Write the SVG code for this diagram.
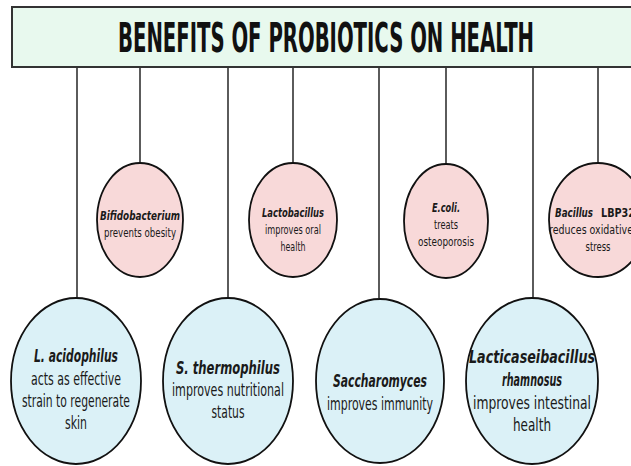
<svg xmlns="http://www.w3.org/2000/svg" width="631" height="466" viewBox="0 0 631 466">
<style>
.bg{fill:#ffffff}
.title-box{fill:#e8f9ee;stroke:#333;stroke-width:2}
.title{font-family:'Liberation Sans Narrow','DejaVu Sans Condensed','Liberation Sans',sans-serif;font-weight:bold;font-size:41px;fill:#111;text-anchor:middle}
.conn line{stroke:#333;stroke-width:1.6}
.blue{fill:#dbf1f7;stroke:#111;stroke-width:1.8}
.pink{fill:#f8d9d9;stroke:#111;stroke-width:1.8}
.bn{font-family:'Liberation Sans Narrow','DejaVu Sans Condensed','Liberation Sans',sans-serif;font-weight:bold;font-style:italic;font-size:18px;fill:#1a1a1a;text-anchor:middle}
.bd{font-family:'Liberation Sans Narrow','DejaVu Sans Condensed','Liberation Sans',sans-serif;font-size:18px;fill:#1a1a1a;text-anchor:middle}
.pn{font-family:'Liberation Sans Narrow','DejaVu Sans Condensed','Liberation Sans',sans-serif;font-weight:bold;font-style:italic;font-size:13px;fill:#1a1a1a;text-anchor:middle}
.pd{font-family:'Liberation Sans Narrow','DejaVu Sans Condensed','Liberation Sans',sans-serif;font-size:13px;fill:#1a1a1a;text-anchor:middle}
</style>
<rect class="bg" x="0" y="0" width="631" height="466"/>
<g id="title">
<rect class="title-box" x="12" y="7" width="630" height="60"/>
<text class="title" x="326" y="52" textLength="416" lengthAdjust="spacingAndGlyphs">BENEFITS OF PROBIOTICS ON HEALTH</text>
</g>
<g id="connectors" class="conn">
<line x1="77" y1="68" x2="77" y2="298"/>
<line x1="140" y1="68" x2="140" y2="163"/>
<line x1="228" y1="68" x2="228" y2="298"/>
<line x1="293" y1="68" x2="293" y2="163"/>
<line x1="379" y1="68" x2="379" y2="298"/>
<line x1="446" y1="68" x2="446" y2="163"/>
<line x1="533" y1="68" x2="533" y2="298"/>
<line x1="598" y1="68" x2="598" y2="163"/>
</g>
<g id="l-acidophilus">
<ellipse class="blue" cx="76" cy="381" rx="65" ry="83"/>
<text class="bn" x="76" y="362" textLength="84" lengthAdjust="spacingAndGlyphs">L. acidophilus</text>
<text class="bd" x="76" y="385" textLength="90" lengthAdjust="spacingAndGlyphs">acts as effective</text>
<text class="bd" x="76" y="407" textLength="108" lengthAdjust="spacingAndGlyphs">strain to regenerate</text>
<text class="bd" x="76" y="429" textLength="22" lengthAdjust="spacingAndGlyphs">skin</text>
</g>
<g id="bifidobacterium">
<ellipse class="pink" cx="140" cy="220" rx="43" ry="57"/>
<text class="pn" x="140" y="220" textLength="80" lengthAdjust="spacingAndGlyphs">Bifidobacterium</text>
<text class="pd" x="140" y="237" textLength="72" lengthAdjust="spacingAndGlyphs">prevents obesity</text>
</g>
<g id="s-thermophilus">
<ellipse class="blue" cx="228" cy="381" rx="65" ry="83"/>
<text class="bn" x="228" y="374" textLength="104" lengthAdjust="spacingAndGlyphs">S. thermophilus</text>
<text class="bd" x="228" y="396" textLength="112" lengthAdjust="spacingAndGlyphs">improves nutritional</text>
<text class="bd" x="228" y="418" textLength="33" lengthAdjust="spacingAndGlyphs">status</text>
</g>
<g id="lactobacillus">
<ellipse class="pink" cx="293" cy="220" rx="44" ry="57"/>
<text class="pn" x="293" y="217" textLength="62" lengthAdjust="spacingAndGlyphs">Lactobacillus</text>
<text class="pd" x="293" y="234" textLength="56" lengthAdjust="spacingAndGlyphs">improves oral</text>
<text class="pd" x="293" y="251" textLength="25" lengthAdjust="spacingAndGlyphs">health</text>
</g>
<g id="saccharomyces">
<ellipse class="blue" cx="380" cy="381" rx="64" ry="82"/>
<text class="bn" x="380" y="387" textLength="94" lengthAdjust="spacingAndGlyphs">Saccharomyces</text>
<text class="bd" x="380" y="410" textLength="106" lengthAdjust="spacingAndGlyphs">improves immunity</text>
</g>
<g id="e-coli">
<ellipse class="pink" cx="446" cy="221" rx="42" ry="57"/>
<text class="pn" x="446" y="212" textLength="28" lengthAdjust="spacingAndGlyphs">E.coli.</text>
<text class="pd" x="446" y="229" textLength="24" lengthAdjust="spacingAndGlyphs">treats</text>
<text class="pd" x="446" y="246" textLength="56" lengthAdjust="spacingAndGlyphs">osteoporosis</text>
</g>
<g id="lacticaseibacillus-rhamnosus">
<ellipse class="blue" cx="532" cy="381" rx="66" ry="83"/>
<text class="bn" x="532" y="363" textLength="126" lengthAdjust="spacingAndGlyphs">Lacticaseibacillus</text>
<text class="bn" x="532" y="386" textLength="60" lengthAdjust="spacingAndGlyphs">rhamnosus</text>
<text class="bd" x="532" y="409" textLength="118" lengthAdjust="spacingAndGlyphs">improves intestinal</text>
<text class="bd" x="532" y="431" textLength="38" lengthAdjust="spacingAndGlyphs">health</text>
</g>
<g id="bacillus-lbp32">
<ellipse class="pink" cx="598" cy="220" rx="49" ry="57"/>
<text class="pn" x="574" y="217" textLength="38" lengthAdjust="spacingAndGlyphs">Bacillus</text>
<text class="pd" x="618" y="217" font-weight="bold" textLength="34" lengthAdjust="spacingAndGlyphs">LBP32</text>
<text class="pd" x="591" y="234" textLength="84" lengthAdjust="spacingAndGlyphs">reduces oxidative</text>
<text class="pd" x="598" y="251" textLength="25" lengthAdjust="spacingAndGlyphs">stress</text>
</g>
</svg>
